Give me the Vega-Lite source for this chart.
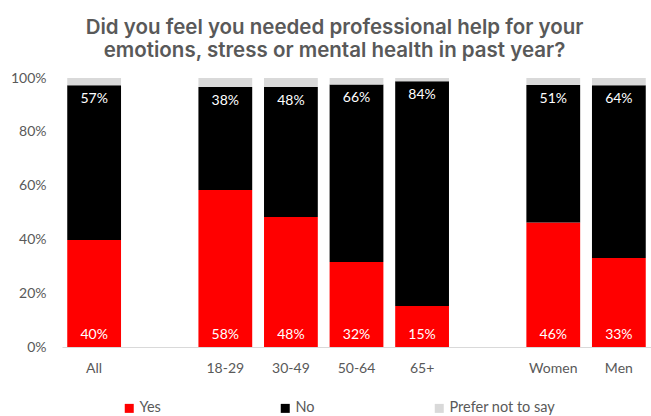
{
  "$schema": "https://vega.github.io/schema/vega-lite/v6.json",
  "width": 589,
  "height": 269,
  "autosize": "none",
  "padding": {"left": 62, "top": 78, "right": 0, "bottom": 69},
  "background": "white",
  "title": {
    "text": ["Did you feel you needed professional help for your", "emotions, stress or mental health in past year?"],
    "font": "Inter",
    "fontSize": 20.5,
    "fontWeight": 600,
    "color": "#595959",
    "anchor": "middle",
    "dx": -22,
    "lineHeight": 23,
    "offset": 10
  },
  "config": {
    "view": {"stroke": null},
    "font": "Lato"
  },
  "data": {
    "values": [
      {"group": "All", "answer": "Yes", "ord": 1, "value": 0.398},
      {"group": "All", "answer": "No", "ord": 2, "value": 0.575},
      {"group": "All", "answer": "Prefer not to say", "ord": 3, "value": 0.027},
      {"group": "18-29", "answer": "Yes", "ord": 1, "value": 0.584},
      {"group": "18-29", "answer": "No", "ord": 2, "value": 0.383},
      {"group": "18-29", "answer": "Prefer not to say", "ord": 3, "value": 0.033},
      {"group": "30-49", "answer": "Yes", "ord": 1, "value": 0.483},
      {"group": "30-49", "answer": "No", "ord": 2, "value": 0.484},
      {"group": "30-49", "answer": "Prefer not to say", "ord": 3, "value": 0.033},
      {"group": "50-64", "answer": "Yes", "ord": 1, "value": 0.316},
      {"group": "50-64", "answer": "No", "ord": 2, "value": 0.66},
      {"group": "50-64", "answer": "Prefer not to say", "ord": 3, "value": 0.024},
      {"group": "65+", "answer": "Yes", "ord": 1, "value": 0.152},
      {"group": "65+", "answer": "No", "ord": 2, "value": 0.836},
      {"group": "65+", "answer": "Prefer not to say", "ord": 3, "value": 0.012},
      {"group": "Women", "answer": "Yes", "ord": 1, "value": 0.463},
      {"group": "Women", "answer": "No", "ord": 2, "value": 0.511},
      {"group": "Women", "answer": "Prefer not to say", "ord": 3, "value": 0.026},
      {"group": "Men", "answer": "Yes", "ord": 1, "value": 0.331},
      {"group": "Men", "answer": "No", "ord": 2, "value": 0.642},
      {"group": "Men", "answer": "Prefer not to say", "ord": 3, "value": 0.027}
    ]
  },
  "transform": [
    {"stack": "value", "groupby": ["group"], "sort": [{"field": "ord", "order": "ascending"}], "as": ["y0", "y1"]}
  ],
  "encoding": {
    "x": {
      "field": "group",
      "type": "nominal",
      "sort": null,
      "scale": {"domain": ["All", "gap1", "18-29", "30-49", "50-64", "65+", "gap2", "Women", "Men"], "paddingInner": 0.18, "paddingOuter": 0.08},
      "axis": {
        "title": null,
        "labelAngle": 0,
        "labelExpr": "indexof(datum.label, 'gap') === 0 ? '' : datum.label",
        "ticks": false,
        "domainColor": "#d9d9d9",
        "domainWidth": 1,
        "labelColor": "#595959",
        "labelFontSize": 14,
        "labelPadding": 14,
        "labelFont": "Lato"
      }
    }
  },
  "layer": [
    {
      "mark": {"type": "bar"},
      "encoding": {
        "y": {
          "field": "y0",
          "type": "quantitative",
          "scale": {"domain": [0, 1]},
          "axis": {
            "title": null,
            "format": ".0%",
            "values": [0, 0.2, 0.4, 0.6, 0.8, 1],
            "grid": false,
            "domain": false,
            "ticks": false,
            "labelColor": "#595959",
            "labelFontSize": 14,
            "labelPadding": 16,
            "labelFont": "Lato"
          }
        },
        "y2": {"field": "y1"},
        "color": {
          "field": "answer",
          "type": "nominal",
          "sort": ["Yes", "No", "Prefer not to say"],
          "scale": {"domain": ["Yes", "No", "Prefer not to say"], "range": ["#ff0000", "#000000", "#d9d9d9"]},
          "legend": {
            "title": null,
            "orient": "none",
            "legendX": 60,
            "legendY": 323,
            "direction": "horizontal",
            "symbolType": "square",
            "symbolSize": 81,
            "symbolStrokeWidth": 0,
            "labelColor": "#595959",
            "labelFontSize": 14.5,
            "labelFont": "Lato",
            "columnPadding": 117,
            "labelOffset": 3
          }
        }
      }
    },
    {
      "transform": [{"filter": "datum.answer === 'Yes'"}],
      "mark": {"type": "text", "color": "white", "fontSize": 14, "baseline": "bottom", "dy": -5, "font": "Lato"},
      "encoding": {
        "y": {"datum": 0, "type": "quantitative"},
        "text": {"field": "value", "type": "quantitative", "format": ".0%"}
      }
    },
    {
      "transform": [{"filter": "datum.answer === 'No'"}],
      "mark": {"type": "text", "color": "white", "fontSize": 14, "baseline": "top", "dy": 7, "font": "Lato"},
      "encoding": {
        "y": {"field": "y1", "type": "quantitative"},
        "text": {"field": "value", "type": "quantitative", "format": ".0%"}
      }
    }
  ]
}
